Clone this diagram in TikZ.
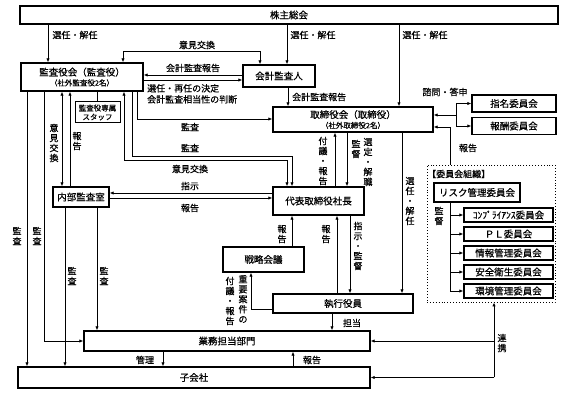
\documentclass[tikz,border=0pt]{standalone}
\usepackage{fontspec}
\setmainfont{Noto Sans CJK JP}[FakeBold=0.6]
\usetikzlibrary{arrows.meta}
\begin{document}
\begin{tikzpicture}[x=1pt,y=-1pt,
  bx/.style={draw,line width=1.4pt,inner sep=0pt,font=\fontsize{9.5}{11}\selectfont},
  con/.style={line width=0.8pt},
  ar/.style={con,-{Latex[length=4pt,width=3.4pt]}},
  dar/.style={con,{Latex[length=4pt,width=3.4pt]}-{Latex[length=4pt,width=3.4pt]}},
  lab/.style={inner sep=0pt,font=\fontsize{9}{10}\selectfont},
  vlab/.style={lab,align=center}]
\useasboundingbox (0,0) rectangle (566,393);
% boxes
\node[bx,minimum width=538pt,minimum height=18pt] (kabu) at (289,15) {株主総会};
\node[bx,minimum width=122pt,minimum height=28pt,align=center] (kansa) at (82,77) {監査役会（監査役）\\[-1pt]{\fontsize{7.5}{9}\selectfont （社外監査役2名）}};
\node[bx,minimum width=72pt,minimum height=22pt] (kaikei) at (279,76) {会計監査人};
\node[bx,minimum width=160pt,minimum height=25pt,align=center] (tori) at (353,119.5) {取締役会（取締役）\\[-1pt]{\fontsize{7.5}{9}\selectfont （社外取締役2名）}};
\node[bx,minimum width=84pt,minimum height=17pt] (simei) at (514,103.5) {指名委員会};
\node[bx,minimum width=84pt,minimum height=17pt] (hoshu) at (514,126) {報酬委員会};
\node[bx,line width=1pt,minimum width=45pt,minimum height=21pt,align=center,font=\fontsize{7.5}{9}\selectfont] (staff) at (97.5,112.5) {監査役専属\\スタッフ};
\node[bx,minimum width=56pt,minimum height=20pt] (naibu) at (81,197) {内部監査室};
\node[bx,minimum width=91pt,minimum height=28pt] (daihyo) at (318.5,201) {代表取締役社長};
\node[bx,minimum width=81pt,minimum height=25pt] (senryaku) at (263.5,259.5) {戦略会議};
\node[bx,minimum width=140pt,minimum height=19pt] (shikko) at (343,303.5) {執行役員};
\node[bx,minimum width=286pt,minimum height=20pt] (gyomu) at (227,341) {業務担当部門};
\node[bx,minimum width=352pt,minimum height=21pt] (kogaisha) at (194,377.5) {子会社};
% committee organisation
\node[draw,dotted,line width=0.9pt,inner sep=0pt,minimum width=128pt,minimum height=137pt] (iinkai) at (491,233.5) {};
\node[lab,anchor=west] (iinkaiT) at (427,174) {【委員会組織】};
\node[bx,minimum width=86pt,minimum height=19pt] (risk) at (477,192.5) {リスク管理委員会};
\node[bx,minimum width=89pt,minimum height=14pt] (comp) at (508.5,215) {ｺﾝﾌﾟﾗｲｱﾝｽ委員会};
\node[bx,minimum width=89pt,minimum height=14pt] (pl) at (508.5,234) {ＰＬ委員会};
\node[bx,minimum width=89pt,minimum height=14pt] (joho) at (508.5,253) {情報管理委員会};
\node[bx,minimum width=89pt,minimum height=14pt] (anzen) at (508.5,272) {安全衛生委員会};
\node[bx,minimum width=89pt,minimum height=14pt] (kankyo) at (508.5,291) {環境管理委員会};
% connectors
\draw[ar] (kabu.south -| 48,0) -- (kansa.north -| 48,0);
\draw[ar] (kabu.south -| 287,0) -- (kaikei.north -| 287,0);
\draw[ar] (kabu.south -| 399,0) -- (tori.north -| 399,0);
\draw[dar] (kansa.north -| 123,0) -- ++(0,-11) -| (kaikei.north -| 260,0);
\draw[ar] (kaikei.west |- 0,75) -- (kansa.east |- 0,75);
\draw[ar] (kansa.east |- 0,80) -- (kaikei.west |- 0,80);
\draw[ar] (kaikei.south -| 288,0) -- (tori.north -| 288,0);
\draw[ar] (kansa.south -| 137,0) |- (tori.west |- 0,119);
\draw[ar] (kansa.south -| 132,0) -- ++(0,65) -| (daihyo.north -| 292,0);
\draw[dar] (kansa.south -| 124,0) -- ++(0,69) -| (daihyo.north -| 287,0);
\draw[dar] (kansa.south -| 62,0) -- (naibu.north -| 62,0);
\draw[ar] (naibu.north -| 70,0) -- (kansa.south -| 70,0);
\draw[con] (kansa.south -| 97.5,0) -- (staff.north);
\draw[ar] (kansa.south -| 27,0) -- (kogaisha.north -| 27,0);
\draw[ar] (kansa.south -| 44,0) |- (gyomu.west);
\draw[ar] (daihyo.west |- 0,193) -- (naibu.east |- 0,193);
\draw[ar] (naibu.east |- 0,198) -- (daihyo.west |- 0,198);
\draw[ar] (naibu.south -| 65,0) -- (kogaisha.north -| 65,0);
\draw[ar] (naibu.south -| 97,0) -- (gyomu.north -| 97,0);
\draw[ar] (daihyo.north -| 335,0) -- (tori.south -| 335,0);
\draw[ar] (tori.south -| 347,0) -- (daihyo.north -| 347,0);
\draw[ar] (tori.south -| 402,0) -- (shikko.north -| 402,0);
\draw[ar] (senryaku.north -| 292,0) -- (daihyo.south -| 292,0);
\draw[ar] (shikko.north -| 337,0) -- (daihyo.south -| 337,0);
\draw[ar] (daihyo.south -| 350,0) -- (shikko.north -| 350,0);
\draw[ar] (shikko.west |- 0,309) -| (senryaku.south -| 251,0);
\draw[ar] (shikko.south -| 332,0) -- (gyomu.north -| 332,0);
\draw[ar] (gyomu.south -| 163,0) -- (kogaisha.north -| 163,0);
\draw[ar] (kogaisha.north -| 293,0) -- (gyomu.south -| 293,0);
\coordinate (br) at (456,115);
\draw[ar] (br) -- (tori.east |- br);
\draw[ar] (br) |- (simei.west);
\draw[ar] (br) |- (hoshu.west);
\draw[ar] (iinkai.north -| 450,0) |- (tori.east |- 0,127);
\draw[ar] (risk.south -| 450,0) |- (kankyo.west);
\draw[ar] (comp.west -| 450,0) -- (comp.west);
\draw[ar] (pl.west -| 450,0) -- (pl.west);
\draw[ar] (joho.west -| 450,0) -- (joho.west);
\draw[ar] (anzen.west -| 450,0) -- (anzen.west);
\draw[ar] (kogaisha.east -| 494,0) -- (iinkai.south -| 494,0);
\draw[ar] (kogaisha.east -| 494,0) -- (kogaisha.east);
\draw[ar] (gyomu.east -| 494,0) -- (gyomu.east);
% labels
\node[lab] (l1) at (75,35) {選任・解任};
\node[lab] (l2) at (313,35) {選任・解任};
\node[lab] (l3) at (425,35) {選任・解任};
\node[lab] (l4) at (197,45) {意見交換};
\node[lab] (l5) at (193,68) {会計監査報告};
\node[lab,anchor=north west,align=left,font=\fontsize{9}{11}\selectfont] (l6) at (147,84) {選任・再任の決定\\会計監査相当性の判断};
\node[lab,anchor=west] (l7) at (292,97) {会計監査報告};
\node[lab] (l8) at (190,127) {監査};
\node[lab] (l9) at (190,148) {監査};
\node[lab] (l10) at (190,169) {意見交換};
\node[lab] (l11) at (190,186) {指示};
\node[lab] (l12) at (190,208) {報告};
\node[vlab] (l13) at (54,143) {意\\見\\交\\換};
\node[vlab] (l14) at (77,141) {報\\告};
\node[vlab] (l15) at (17,236) {監\\査};
\node[vlab] (l16) at (37,236) {監\\査};
\node[vlab] (l17) at (72,276) {監\\査};
\node[vlab] (l18) at (104,276) {監\\査};
\node[vlab] (l19) at (323,161) {付\\議\\・\\報\\告};
\node[vlab] (l20) at (356,149) {監\\督};
\node[vlab] (l21) at (368,162) {選\\定\\・\\解\\職};
\node[vlab] (l22) at (410,201) {選\\任\\・\\解\\任};
\node[vlab] (l23) at (282,234) {報\\告};
\node[vlab] (l24) at (326,234) {報\\告};
\node[vlab] (l25) at (358,246) {指\\示\\・\\監\\督};
\node[vlab] (l26) at (243,299) {重\\要\\案\\件\\の};
\node[vlab] (l27) at (230,301) {付\\議\\・\\報\\告};
\node[lab] (l28) at (352,323) {担当};
\node[lab] (l29) at (145,360) {管理};
\node[lab] (l30) at (312,360) {報告};
\node[vlab] (l31) at (502,343) {連\\携};
\node[lab] (l32) at (468,148) {報告};
\node[lab] (l33) at (445,92) {諮問・答申};
\node[vlab] (l34) at (439,216) {監\\督};
\end{tikzpicture}
\end{document}
